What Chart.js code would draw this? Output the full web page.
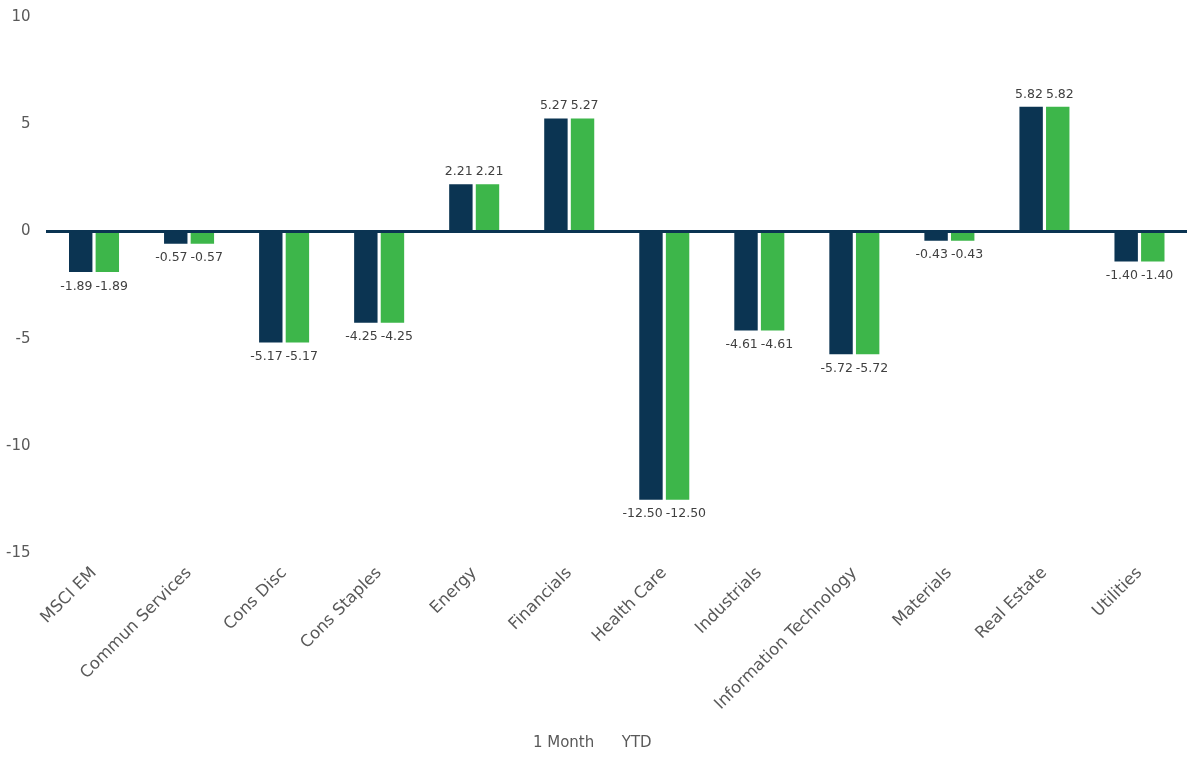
<!DOCTYPE html>
<html><head><meta charset="utf-8">
<script src="https://cdn.jsdelivr.net/npm/chart.js@4"></script>
<style>html,body{margin:0;padding:0;background:#fff;overflow:hidden}#wrap{width:1197px;height:774px;margin-top:-8px}</style>
</head><body><div id="wrap"><canvas id="c"></canvas></div>
<script>
const categories = ["MSCI EM","Commun Services","Cons Disc","Cons Staples","Energy","Financials","Health Care","Industrials","Information Technology","Materials","Real Estate","Utilities"];
const oneMonth = [-1.89,-0.57,-5.17,-4.25,2.21,5.27,-12.50,-4.61,-5.72,-0.43,5.82,-1.40];
const ytd = [-1.89,-0.57,-5.17,-4.25,2.21,5.27,-12.50,-4.61,-5.72,-0.43,5.82,-1.40];
const yTicks = [-15,-10,-5,0,5,10];
const FONT = "'DejaVu Sans', sans-serif";

const labelPlugin = {
  id:'barLabels',
  afterDatasetsDraw(chart){
    const ctx = chart.ctx;
    ctx.save();
    ctx.font = "12.5px " + FONT;
    ctx.fillStyle = '#404040';
    ctx.textAlign = 'center';
    const m0 = chart.getDatasetMeta(0), m1 = chart.getDatasetMeta(1);
    const d0 = chart.data.datasets[0].data, d1 = chart.data.datasets[1].data;
    for (let j = 0; j < d0.length; j++) {
      const b0 = m0.data[j], b1 = m1.data[j];
      const t0 = d0[j].toFixed(2), t1 = d1[j].toFixed(2);
      const w0 = ctx.measureText(t0).width, w1 = ctx.measureText(t1).width;
      let x0 = b0.x, x1 = b1.x;
      const gap = 3;
      if ((w0 + w1) / 2 + gap > x1 - x0) {
        const mid = (x0 + x1) / 2;
        x0 = mid - gap / 2 - w0 / 2;
        x1 = mid + gap / 2 + w1 / 2;
      }
      [[d0[j], t0, x0, b0], [d1[j], t1, x1, b1]].forEach(([v, t, x, bar]) => {
        if (v >= 0) { ctx.textBaseline = 'bottom'; ctx.fillText(t, x, bar.y - 6); }
        else { ctx.textBaseline = 'top'; ctx.fillText(t, x, bar.y + 8); }
      });
    }
    ctx.restore();
  }
};

new Chart(document.getElementById('c'), {
  type:'bar',
  data:{
    labels: categories,
    datasets:[
      {label:'1 Month', data: oneMonth, backgroundColor:'#0b3452', categoryPercentage:0.56, barPercentage:0.88},
      {label:'YTD', data: ytd, backgroundColor:'#3db64a', categoryPercentage:0.56, barPercentage:0.88}
    ]
  },
  options:{
    responsive:true, maintainAspectRatio:false, animation:false,
    layout:{padding:{left:-10,right:10,top:0,bottom:5}},
    plugins:{
      legend:{position:'bottom', labels:{boxWidth:0, boxHeight:0, padding:20, color:'#595959', font:{family:FONT,size:15}}},
      tooltip:{enabled:false}
    },
    scales:{
      x:{
        grid:{display:false}, border:{display:false},
        ticks:{color:'#595959', font:{family:FONT,size:16.5}, maxRotation:45, minRotation:45, autoSkip:false, padding:2}
      },
      y:{
        min:-15, max:10,
        afterBuildTicks(axis){ axis.ticks = yTicks.map(v=>({value:v})); },
        border:{display:false},
        grid:{drawTicks:false, color:(c)=> c.tick && c.tick.value===0 ? '#0b3452' : 'rgba(0,0,0,0)', lineWidth:(c)=> c.tick && c.tick.value===0 ? 3 : 0},
        ticks:{color:'#595959', font:{family:FONT,size:15}, padding:16}
      }
    }
  },
  plugins:[labelPlugin]
});
</script></body></html>
